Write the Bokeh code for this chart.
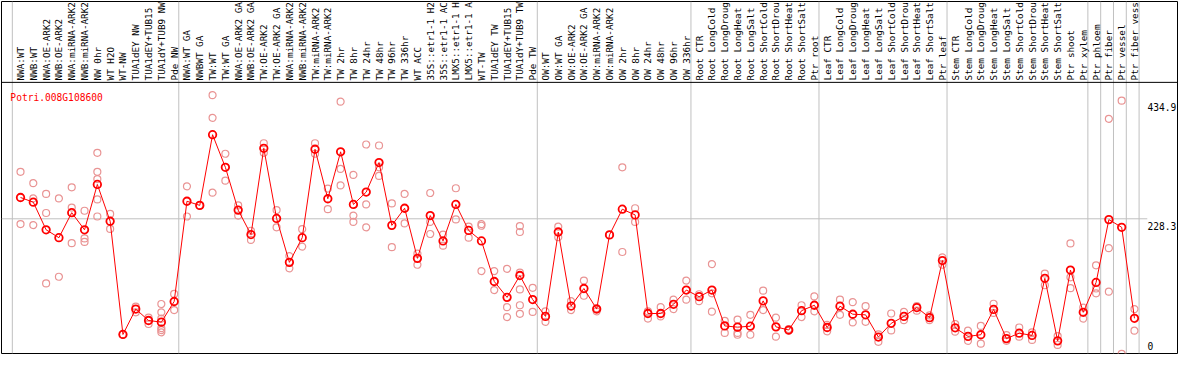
from math import pi
from bokeh.plotting import figure
from bokeh.models import Range1d, Span
from bokeh.core.properties import value
from bokeh.embed import file_html
from bokeh.resources import INLINE

gene = "Potri.008G108600"

categories = [
    "NWA:WT", "NWB:WT", "NWA:OE-ARK2", "NWB:OE-ARK2", "NWA:miRNA-ARK2", "NWB:miRNA-ARK2",
    "NW 0hr", "WT H2O", "WT-NW", "TUA1dEY NW", "TUA1dEY+TUB15 NW", "TUA1dY+TUB9 NW", "Pde NW",
    "NWA:WT GA", "NWBWT GA", "TW:WT", "TW:WT GA", "NWA:OE-ARK2 GA", "NWB:OE-ARK2 GA",
    "TW:OE-ARK2", "TW:OE-ARK2 GA", "NWA:miRNA-ARK2 GA", "NWB:miRNA-ARK2 GA", "TW:miRNA-ARK2",
    "TW:miRNA-ARK2", "TW 2hr", "TW 8hr", "TW 24hr", "TW 48hr", "TW 96hr", "TW 336hr", "WT ACC",
    "35S::etr1-1 H2O", "35S::etr1-1 ACC", "LMX5::etr1-1 H2O", "LMX5::etr1-1 ACC", "WT-TW",
    "TUA1dEY TW", "TUA1dEY+TUB15 TW", "TUA1dY+TUB9 TW", "Pde TW",
    "OW:WT", "OW:WT GA", "OW:OE-ARK2", "OW:OE-ARK2 GA", "OW:miRNA-ARK2", "OW:miRNA-ARK2",
    "OW 2hr", "OW 8hr", "OW 24hr", "OW 48hr", "OW 96hr", "OW 336hr",
    "Root CTR", "Root LongCold", "Root LongDrought", "Root LongHeat", "Root LongSalt",
    "Root ShortCold", "Root ShortDrought", "Root ShortHeat", "Root ShortSalt", "Ptr root",
    "Leaf CTR", "Leaf LongCold", "Leaf LongDrought", "Leaf LongHeat", "Leaf LongSalt",
    "Leaf ShortCold", "Leaf ShortDrought", "Leaf ShortHeat", "Leaf ShortSalt", "Ptr leaf",
    "Stem CTR", "Stem LongCold", "Stem LongDrought", "Stem LongHeat", "Stem LongSalt",
    "Stem ShortCold", "Stem ShortDrought", "Stem ShortHeat", "Stem ShortSalt", "Ptr shoot",
    "Ptr xylem", "Ptr phloem", "Ptr fiber", "Ptr vessel", "Ptr fiber vessel",
]

# first category index of each separated block (last entry = end)
group_starts = [0, 13, 41, 53, 63, 73, 84, 85, 86, 87, 88]

means = [
    263.9, 256.0, 209.9, 196.7, 238.5, 209.9, 285.7, 224.2, 35.0, 77.4, 58.3, 55.6, 90.1,
    257.6, 250.7, 368.8, 314.3, 242.8, 201.9, 346.1, 228.9, 155.5, 196.7, 344.5, 261.8,
    340.2, 252.3, 273.0, 322.3, 217.3, 245.9, 162.2, 233.7, 191.3, 252.3, 208.8, 191.3,
    123.5, 97.0, 133.5, 93.3,
    65.2, 206.2, 82.5, 111.8, 77.4, 201.4, 244.3, 234.8, 70.0, 70.0, 85.4, 109.2,
    98.1, 109.2, 49.3, 47.2, 48.8, 91.1, 47.7, 42.4, 74.7, 83.8,
    46.6, 82.2, 68.8, 67.8, 30.7, 53.6, 65.2, 80.0, 63.1, 158.5,
    46.1, 31.8, 34.5, 76.8, 28.1, 37.1, 33.4, 128.8, 24.3, 142.6,
    72.0, 121.9, 226.9, 214.1, 62.0,
]

replicates = [
    [306.8, 219.4], [287.8, 262.3, 217.8], [269.8, 238.0, 120.3], [262.3, 131.4],
    [280.9, 247.0, 187.6], [241.7, 195.5, 189.7], [338.6, 306.8, 294.6, 260.7, 232.1],
    [236.4, 211.4], [35.0, 35.0], [81.6, 72.0], [63.1, 52.5],
    [85.9, 72.0, 61.5, 45.6, 42.4, 38.6], [102.8, 75.8],
    [282.5, 232.1], [250.7], [434.9, 397.0, 271.9], [337.0, 292.0], [250.7, 233.7],
    [208.3, 192.9], [354.5, 338.6], [242.8, 214.1], [166.0, 145.5], [211.0, 181.8],
    [354.5, 337.0], [278.7, 244.3], [424.0, 311.6, 284.1], [301.6, 233.7, 223.0],
    [352.4, 252.3, 214.1], [350.8, 314.3, 300.0], [253.9, 180.8], [269.8, 220.5],
    [170.1, 151.5], [271.4, 223.0, 202.9], [201.9, 183.3], [279.3, 227.3], [215.1, 196.7],
    [219.4, 216.7, 141.0], [141.0, 109.2], [144.7, 80.6, 64.1],
    [216.2, 206.2, 138.3, 110.2, 83.8, 69.5], [112.9, 72.7],
    [73.6, 56.1], [215.1, 197.6], [90.6, 75.8], [125.1, 99.7], [79.0, 73.6], [201.4],
    [314.3, 172.8], [245.9, 223.0], [73.6, 61.5], [80.6, 65.2], [93.2, 77.4], [125.1, 93.2],
    [102.2, 90.6], [152.6, 103.8, 73.1], [57.7, 37.6], [59.9, 37.6, 34.5], [67.8, 34.5],
    [108.1, 75.8], [63.1, 31.3], [44.0, 41.3], [83.8, 64.1], [98.6, 73.6],
    [50.9, 40.2], [93.2, 67.8], [89.0, 55.1], [82.2, 56.1], [35.0, 22.7], [70.0, 41.8],
    [72.7, 58.8], [82.2, 74.7], [66.8, 58.8], [163.8, 151.5],
    [52.5, 39.7], [41.3, 24.3], [49.3, 19.6], [86.3, 71.0], [33.9, 24.3], [46.6, 31.3],
    [38.6, 25.9], [136.7, 117.2], [32.3, 17.5], [187.1, 130.4, 112.4],
    [80.0, 61.5], [150.6, 111.8, 103.8], [395.4, 179.2, 106.5], [425.6, 2.6], [77.4, 41.3],
]

y_ticks = [0, 228.3, 434.9]
y_tick_labels = ["0", "228.3", "434.9"]

# ---------------- layout ----------------
W, H = 1178, 354          # fits 1194x370 window with 8px margin
REF_W, REF_H = 1194, 370  # reference pixel space used for decorations
FONT = value("DejaVu Sans Mono")
MAXCH = 14                # header shows only the first characters of each name

n = len(categories)
idx = list(range(n))
shown = [c[:MAXCH].rstrip() for c in categories]

p = figure(width=W, height=H, output_backend="svg", toolbar_location=None,
           x_range=Range1d(-1.485, 90.36), y_range=Range1d(3.18, 591.4),
           x_axis_type=None, y_axis_type=None,
           min_border_left=1, min_border_right=1, min_border_top=1, min_border_bottom=1)
p.outline_line_color = "black"
p.outline_line_width = 1
p.background_fill_color = "white"
p.border_fill_color = "white"
p.extra_y_ranges = {"px": Range1d(REF_H, 0)}
p.extra_x_ranges = {"pxx": Range1d(0, REF_W)}

# block separators
sep_x = [s - 0.64 for s in group_starts]
p.segment(x0=sep_x, x1=sep_x, y0=[0] * len(sep_x), y1=[REF_H] * len(sep_x),
          y_range_name="px", line_color="#c0c0c0", line_width=1)

# horizontal reference line at middle tick
p.segment(x0=[-1.485], x1=[n], y0=[y_ticks[1]], y1=[y_ticks[1]],
          line_color="#c0c0c0", line_width=1)

# header separator
p.add_layout(Span(location=85, dimension="width", y_range_name="px",
                  line_color="black", line_width=1))

# replicates
rx, ry = [], []
for i, reps in enumerate(replicates):
    for v in reps:
        rx.append(i)
        ry.append(v)
p.scatter(rx, ry, marker="circle", size=7, fill_color=None,
          line_color="#e99494", line_width=1.2)

# mean line + markers
p.line(idx, means, line_color="red", line_width=1)
p.scatter(idx, means, marker="circle", size=7.5, fill_color=None,
          line_color="red", line_width=1.8)

# category labels (rotated)
p.text(x=idx, y=[83] * n, text=shown, y_range_name="px",
       angle=pi / 2, text_align="left", text_baseline="middle",
       text_font=FONT, text_font_size="9.3px", text_color="black")

# gene name
p.text(x=[9], y=[100.5], text=[gene], x_range_name="pxx", y_range_name="px",
       text_align="left", text_baseline="alphabetic",
       text_font=FONT, text_font_size="9.6px", text_color="red")

# value labels on the right
y_off = [-9.0, 6.8, 12.0]
p.text(x=[1163.5] * len(y_ticks), y=y_ticks, text=y_tick_labels, x_range_name="pxx",
       y_offset=y_off, text_align="left", text_baseline="alphabetic",
       text_font=FONT, text_font_size="9.6px", text_color="black")

open("out.html", "w").write(file_html(p, INLINE))
